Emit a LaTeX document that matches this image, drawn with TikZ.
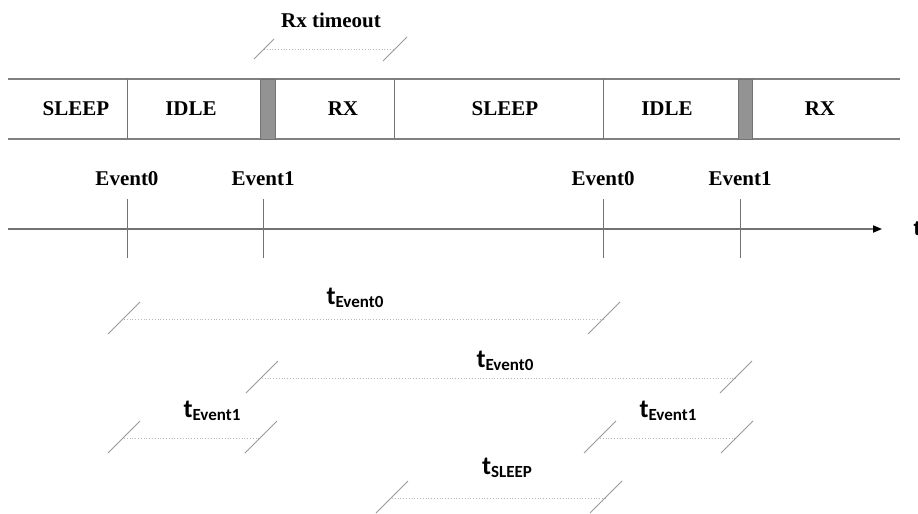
\documentclass[tikz,border=0pt]{standalone}
\usepackage{fontspec}
\setmainfont{Liberation Serif}
\newfontfamily\calfont{Carlito}
\newfontfamily\arialfont{Liberation Sans}
\usetikzlibrary{arrows.meta}
\newcommand{\tsub}[1]{{\calfont\bfseries\fontsize{13}{15}\selectfont t\raisebox{-1.4pt}{\fontsize{8.5}{10}\selectfont #1}}}
\begin{document}
\begin{tikzpicture}[x=0.5pt, y=-0.5pt,
  state/.style={font=\bfseries\fontsize{10.5}{12}\selectfont},
  band/.style={gray, line width=0.6pt},
  gap/.style={draw=gray!90!black, fill=gray!85, line width=0.4pt},
  tick/.style={gray!90!black, line width=0.5pt},
  dimline/.style={gray!55, densely dotted, line width=0.4pt},
  slash/.style={gray!80, line width=0.45pt}]
\useasboundingbox (0,0) rectangle (918,514);

\draw[band] (8,79) -- (900,79);
\draw[band] (8,139) -- (900,139);
\draw[tick] (127,79) -- (127,139);
\draw[tick] (394,79) -- (394,139);
\draw[tick] (603,79) -- (603,139);
\draw[gap] (260,79) rectangle (275,139);
\draw[gap] (738,79) rectangle (752,139);

\node[state] (sleepA) at (76,109) {SLEEP};
\node[state] (idleA) at (191,109) {IDLE};
\node[state] (rxA) at (343,109) {RX};
\node[state] (sleepB) at (505,109) {SLEEP};
\node[state] (idleB) at (667,109) {IDLE};
\node[state] (rxB) at (820,109) {RX};

\coordinate (ax0) at (8,229);
\coordinate (ax1) at (882,229);
\draw[line width=0.6pt, gray!90!black, -{Triangle[length=4.5pt,width=3.6pt,black]}] (ax0) -- (ax1);
\node[font=\arialfont\bfseries\fontsize{10.5}{12}\selectfont] (tlab) at (917,229) {t};

\node[state] (evA) at (127,179) {Event0};
\node[state] (evB) at (263,179) {Event1};
\node[state] (evC) at (603,179) {Event0};
\node[state] (evD) at (740,179) {Event1};
\draw[tick] (127,199) -- (127,258);
\draw[tick] (263,199) -- (263,258);
\draw[tick] (603,199) -- (603,258);
\draw[tick] (740,199) -- (740,258);

\node[state] (rxto) at (331,20) {Rx timeout};
\coordinate (r0) at (264,49);
\coordinate (r1) at (395,49);
\draw[dimline] (r0) -- (r1);
\draw[slash] (r0) +(-10,10) -- +(10,-10);
\draw[slash] (r1) +(-12,12) -- +(12,-12);

\coordinate (a0) at (124,319);
\coordinate (a1) at (604,319);
\coordinate (b0) at (262,378);
\coordinate (b1) at (736,378);
\coordinate (c0) at (124,438);
\coordinate (c1) at (261,438);
\coordinate (d0) at (600,438);
\coordinate (d1) at (737,438);
\coordinate (e0) at (392,498);
\coordinate (e1) at (606,498);
\draw[dimline] (a0) -- (a1);
\draw[dimline] (b0) -- (b1);
\draw[dimline] (c0) -- (c1);
\draw[dimline] (d0) -- (d1);
\draw[dimline] (e0) -- (e1);
\foreach \p in {a0,a1,b0,b1,c0,c1,d0,d1,e0,e1}
  \draw[slash] (\p) +(-16,15) -- +(16,-17);

\node (tevA) at (355,298) {\tsub{Event0}};
\node (tevB) at (505,361) {\tsub{Event0}};
\node (tevC) at (212,411) {\tsub{Event1}};
\node (tevD) at (668,411) {\tsub{Event1}};
\node (tslp) at (507,468) {\tsub{SLEEP}};

\end{tikzpicture}
\end{document}
